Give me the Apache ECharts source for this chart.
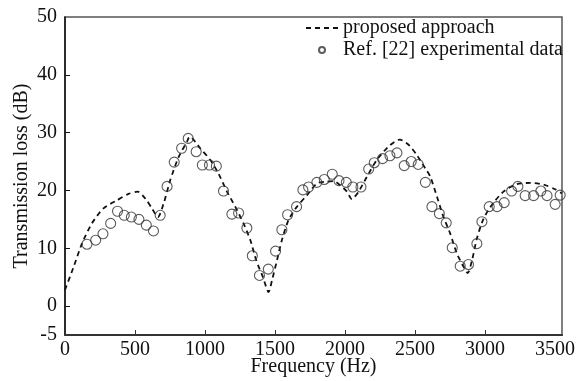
<!DOCTYPE html>
<html>
<head>
<meta charset="utf-8">
<script src="https://cdn.jsdelivr.net/npm/echarts@6/dist/echarts.min.js"></script>
<style>
  html, body { margin: 0; padding: 0; background: #fff; }
  #chart { width: 582px; height: 381px; }
</style>
</head>
<body>
<div id="chart"></div>
<script>
// Measured transmission loss (experimental data), frequency in Hz and TL in dB
const expFreq = [157, 219, 271, 326, 375, 423, 474, 528, 581, 632, 680, 729, 780, 833, 880,
  937, 981, 1032, 1081, 1132, 1192, 1240, 1299, 1338, 1389, 1452, 1504, 1549, 1590, 1654,
  1699, 1740, 1799, 1852, 1909, 1957, 2009, 2056, 2114, 2169, 2209, 2268, 2321, 2371, 2423,
  2473, 2523, 2574, 2621, 2674, 2723, 2766, 2823, 2882, 2942, 2978, 3030, 3086, 3137, 3190,
  3235, 3287, 3347, 3399, 3443, 3501, 3537];
const expTL = [10.7, 11.4, 12.5, 14.3, 16.4, 15.7, 15.4, 15.0, 14.0, 13.0, 15.7, 20.7, 24.9, 27.3, 29.0,
  26.7, 24.4, 24.4, 24.2, 19.9, 15.9, 16.1, 13.5, 8.7, 5.3, 6.4, 9.5, 13.2, 15.8, 17.2,
  20.1, 20.6, 21.4, 21.9, 22.8, 21.7, 21.4, 20.6, 20.6, 23.7, 24.8, 25.5, 26.0, 26.5, 24.3,
  25.0, 24.5, 21.4, 17.2, 16.0, 14.4, 10.1, 6.9, 7.2, 10.8, 14.6, 17.2, 17.2, 17.9, 19.9,
  20.7, 19.1, 19.1, 19.9, 19.1, 17.6, 19.2];

// Predicted transmission loss from the proposed approach
const modelFreq = [0, 62, 121, 192, 275, 371, 454, 518, 574, 621, 664, 704, 752, 812, 871, 890,
  966, 1037, 1097, 1157, 1216, 1275, 1324, 1366, 1414, 1454, 1479, 1514, 1549, 1597, 1657,
  1729, 1799, 1859, 1919, 1966, 2014, 2049, 2097, 2157, 2228, 2311, 2390, 2454, 2514, 2574,
  2609, 2657, 2704, 2752, 2799, 2847, 2876, 2907, 2942, 2989, 3049, 3132, 3228, 3324, 3419,
  3501, 3550];
const modelTL = [2.8, 6.8, 10.8, 14.3, 16.9, 18.3, 19.4, 19.8, 18.6, 16.9, 15.4, 17.7, 21.8, 25.8, 28.4, 29.3,
  27.3, 25.3, 22.9, 19.8, 17.2, 14.3, 11.4, 7.9, 5.0, 2.4, 4.5, 7.9, 11.4, 14.9, 17.2,
  19.2, 21.2, 21.5, 21.6, 20.9, 19.8, 18.5, 19.8, 22.4, 25.3, 27.6, 28.8, 27.9, 26.1, 23.8,
  22.4, 18.9, 15.4, 12.5, 9.1, 6.8, 5.7, 7.9, 11.7, 15.1, 17.5, 19.8, 21.1, 21.3, 21.0,
  20.2, 19.5];

// Axis labels and tick positions
const xLabels = [0, 500, 1000, 1500, 2000, 2500, 3000, 3500];
const xTicks = [500, 1000, 1500, 2000, 2500, 3000];
const yLabels = [-5, 0, 10, 20, 30, 40, 50];
const yTicks = [0, 10, 20, 30, 40];

const FONT = '"Liberation Serif", "Times New Roman", serif';
const FS = 20;
const plain = v => String(v);

const chart = echarts.init(document.getElementById('chart'), null, { renderer: 'canvas' });

chart.setOption({
  animation: false,
  backgroundColor: '#fff',
  textStyle: { fontFamily: FONT, color: '#111' },
  grid: {
    left: 65, right: 20, top: 17, bottom: 46,
    outerBoundsMode: 'none',
    containLabel: false,
    show: true, borderColor: '#555', borderWidth: 1.5, backgroundColor: 'transparent'
  },
  legend: {
    orient: 'vertical',
    left: 305, top: 18,
    padding: 0,
    itemGap: 2,
    itemWidth: 32, itemHeight: 6,
    align: 'left',
    textStyle: { fontFamily: FONT, fontSize: FS, color: '#111' },
    data: [
      { name: 'proposed approach', itemStyle: { opacity: 0 } },
      { name: 'Ref. [22] experimental data' }
    ]
  },
  xAxis: {
    type: 'value',
    min: 0, max: 3550, interval: 50,
    name: 'Frequency (Hz)',
    nameLocation: 'middle',
    nameGap: 22,
    nameMoveOverlap: false,
    nameTextStyle: { fontFamily: FONT, fontSize: FS, color: '#111' },
    axisLine: { show: true, onZero: false, lineStyle: { color: '#333', width: 2 } },
    axisTick: { show: true, inside: true, length: 5, customValues: xTicks, lineStyle: { color: '#333', width: 1 } },
    axisLabel: { customValues: xLabels, formatter: plain, margin: 5, fontFamily: FONT, fontSize: FS, color: '#111' },
    splitLine: { show: false }
  },
  yAxis: {
    type: 'value',
    min: -5, max: 50, interval: 5,
    name: 'Transmission loss (dB)',
    nameLocation: 'middle',
    nameGap: 33,
    nameMoveOverlap: false,
    nameTextStyle: { fontFamily: FONT, fontSize: FS, color: '#111' },
    axisLine: { show: true, onZero: false, lineStyle: { color: '#111', width: 1.5 } },
    axisTick: { show: true, inside: true, length: 5, customValues: yTicks, lineStyle: { color: '#111', width: 1 } },
    axisLabel: { customValues: yLabels, formatter: plain, margin: 8, fontFamily: FONT, fontSize: FS, color: '#111' },
    splitLine: { show: false }
  },
  series: [
    {
      name: 'proposed approach',
      type: 'line',
      data: modelFreq.map((f, i) => [f, modelTL[i]]),
      symbol: 'none',
      showSymbol: false,
      smooth: 0.25,
      clip: true,
      lineStyle: { color: '#111', width: 1.8, type: [5, 4] },
      itemStyle: { color: '#111' },
      z: 2
    },
    {
      name: 'Ref. [22] experimental data',
      type: 'scatter',
      data: expFreq.map((f, i) => [f, expTL[i]]),
      symbol: 'circle',
      symbolSize: 10,
      clip: false,
      itemStyle: { color: 'rgba(255,255,255,0)', borderColor: '#333', borderWidth: 1.1 },
      z: 3
    }
  ]
});
</script>
</body>
</html>
